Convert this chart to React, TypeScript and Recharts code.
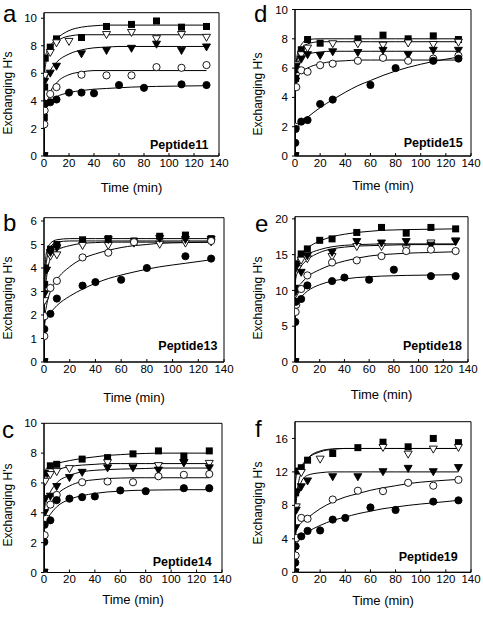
import React from 'react';
import { ComposedChart, Line, Scatter, XAxis, YAxis, ReferenceArea } from 'recharts';

const FONT = '"Liberation Sans", Arial, Helvetica, sans-serif';
const _ = null;

// sampling times (min) of the measured points
const T = [0, 0.25, 0.5, 1, 2, 5, 10, 20, 30, 40, 50, 60, 70, 80, 90, 110, 130];
// times at which the fitted curves were read
const FT = [0, 0.5, 2, 5, 10, 20, 30, 40, 50, 60, 70, 80, 90, 110, 130];
const xTicks = [0, 20, 40, 60, 80, 100, 120, 140];

// Peptide11 (a)
const p11Sq = [0, 2.8, 5.0, 7.1, _, 7.9, 8.5, _, 8.6, _, 9.4, _, 9.55, _, 9.8, 9.35, 9.4];
const p11OT = [0, _, _, 5.85, _, 7.5, 8.2, 8.3, _, _, 8.8, _, 8.95, _, 8.5, 8.8, 8.6];
const p11FT = [0, _, 5.4, _, _, 6.0, 6.5, _, 7.4, _, 7.65, _, 7.8, _, 8.1, 7.65, 7.9];
const p11OC = [0, 2.3, 3.3, _, _, 4.5, 5.0, _, 5.9, _, 5.85, _, 5.85, _, 6.45, 6.4, 6.6];
const p11FC = [0, _, _, 3.8, _, 3.9, 4.1, 4.6, 4.6, 4.55, _, 5.15, _, 4.95, _, 5.2, 5.15];
const p11SqFit = [0, 7.0, 7.5, 8.0, 8.5, 9.1, 9.35, 9.45, 9.5, 9.5, 9.5, 9.5, 9.5, 9.5, 9.5];
const p11OTFit = [0, 6.0, 7.0, 7.8, 8.3, 8.7, 8.8, 8.8, 8.8, 8.8, 8.8, 8.8, 8.8, 8.8, 8.8];
const p11FTFit = [0, 5.0, 5.6, 6.2, 6.8, 7.4, 7.7, 7.85, 7.9, 7.95, 7.95, 7.95, 7.95, 7.95, 7.95];
const p11OCFit = [0, 2.8, 3.6, 4.6, 5.3, 5.9, 6.1, 6.2, 6.2, 6.2, 6.2, 6.2, 6.2, 6.2, 6.2];
const p11FCFit = [0, 3.6, 3.85, 4.0, 4.3, 4.6, 4.75, 4.85, 4.9, 4.95, 5.0, 5.03, 5.05, 5.08, 5.1];

// Peptide13 (b)
const p13Sq = [0, _, 3.3, 4.0, _, 4.8, 5.0, _, 5.2, _, 5.25, _, 5.15, _, 5.35, 5.4, 5.25];
const p13OT = [0, _, 2.6, _, _, 4.5, 4.55, _, 4.95, _, 4.95, _, 5.05, _, 5.0, 5.05, 5.1];
const p13FT = [0, _, 2.9, _, 3.9, 4.65, 4.85, _, _, _, 5.2, _, _, _, 5.25, 5.2, 5.2];
const p13OC = [0, 1.1, 1.95, _, _, 3.15, 3.45, _, 4.45, _, 4.65, _, 5.1, _, _, _, 5.15];
const p13FC = [0, 1.4, _, _, _, 2.05, 2.7, _, 3.25, 3.4, _, 3.5, _, 4.0, _, 4.5, 4.4];
const p13SqFit = [0, 3.5, 4.7, 5.05, 5.2, 5.25, 5.25, 5.25, 5.25, 5.25, 5.25, 5.25, 5.25, 5.25, 5.25];
const p13OTFit = [0, 2.7, 3.6, 4.4, 4.75, 4.95, 5.05, 5.08, 5.1, 5.1, 5.1, 5.1, 5.1, 5.1, 5.1];
const p13FTFit = [0, 3.0, 4.3, 4.9, 5.1, 5.15, 5.15, 5.15, 5.15, 5.15, 5.15, 5.15, 5.15, 5.15, 5.15];
const p13OCFit = [0, 1.8, 2.4, 3.0, 3.5, 4.05, 4.4, 4.6, 4.75, 4.87, 4.95, 5.0, 5.05, 5.08, 5.1];
const p13FCFit = [0, 1.6, 1.9, 2.1, 2.4, 2.8, 3.1, 3.35, 3.55, 3.7, 3.83, 3.95, 4.05, 4.2, 4.35];

// Peptide14 (c)
const p14Sq = [0, _, _, 6.65, _, 7.15, 7.25, _, 7.6, _, 7.7, _, 7.95, _, 8.15, 7.8, 8.15];
const p14OT = [0, _, _, 6.1, _, 6.55, 6.75, 6.95, _, _, 7.35, _, 7.1, _, 7.15, 7.35, 7.3];
const p14FT = [0, _, 4.0, 4.95, _, 5.1, 5.75, 6.35, 6.7, _, 7.0, _, 7.0, _, 6.85, 7.35, 7.0];
const p14OC = [0, _, 2.5, _, 3.6, 4.55, 5.2, _, 6.05, _, 6.1, _, 6.05, _, 6.45, 6.55, 6.6];
const p14FC = [0, 2.05, 3.2, _, _, 3.5, 4.85, 4.95, 5.05, 5.1, _, 5.5, _, 5.45, _, 5.65, 5.65];
const p14SqFit = [0, 6.5, 7.0, 7.15, 7.3, 7.5, 7.65, 7.75, 7.85, 7.9, 7.95, 7.98, 8.0, 8.0, 8.0];
const p14OTFit = [0, 5.9, 6.3, 6.6, 6.85, 7.1, 7.2, 7.25, 7.3, 7.3, 7.3, 7.3, 7.3, 7.3, 7.3];
const p14FTFit = [0, 4.3, 4.8, 5.4, 6.0, 6.5, 6.75, 6.85, 6.9, 6.93, 6.95, 6.97, 7.0, 7.0, 7.0];
const p14OCFit = [0, 3.6, 4.0, 4.6, 5.2, 5.8, 6.1, 6.22, 6.3, 6.33, 6.35, 6.35, 6.35, 6.35, 6.35];
const p14FCFit = [0, 3.3, 3.5, 3.9, 4.4, 4.9, 5.15, 5.3, 5.4, 5.45, 5.5, 5.52, 5.53, 5.55, 5.55];

// Peptide15 (d)
const p15Sq = [0, _, 5.3, 5.9, _, 7.25, 7.95, 7.7, _, _, 8.0, _, 8.25, _, 8.0, 8.2, 7.95];
const p15OT = [0, _, _, 6.2, _, 6.9, 7.35, _, 7.65, _, 7.65, _, 7.55, _, 7.7, 7.6, 7.75];
const p15FT = [0, _, 5.1, 6.1, _, 6.6, 6.9, 6.85, 7.1, _, 7.05, _, 7.2, _, 6.9, 7.2, 7.2];
const p15OC = [0, _, 2.0, 4.7, _, 5.85, 5.75, 6.2, 6.3, _, 6.5, _, 6.7, _, 6.5, 6.65, 6.85];
const p15FC = [0, 0.9, 1.85, _, _, 2.35, 2.45, 3.55, 3.85, _, _, 4.85, _, 6.0, _, 6.5, 6.65];
const p15SqFit = [0, 5.8, 7.0, 7.6, 7.95, 8.0, 8.0, 8.0, 8.0, 8.0, 8.0, 8.0, 8.0, 8.0, 8.0];
const p15OTFit = [0, 5.5, 6.6, 7.3, 7.65, 7.8, 7.8, 7.8, 7.8, 7.8, 7.8, 7.8, 7.8, 7.8, 7.8];
const p15FTFit = [0, 5.5, 6.3, 6.7, 6.95, 7.1, 7.15, 7.15, 7.15, 7.15, 7.15, 7.15, 7.15, 7.15, 7.15];
const p15OCFit = [0, 4.8, 5.3, 5.7, 6.0, 6.3, 6.45, 6.5, 6.55, 6.55, 6.55, 6.55, 6.55, 6.55, 6.55];
const p15FCFit = [0, 1.9, 2.1, 2.3, 2.65, 3.3, 3.85, 4.35, 4.8, 5.15, 5.5, 5.8, 6.05, 6.45, 6.75];

// Peptide18 (e)
const p18Sq = [0, 10.3, _, 13.7, _, 15.1, 15.8, 17.0, 17.2, _, 18.1, _, 18.8, _, 18.0, 18.8, 18.6];
const p18OT = [0, _, 9.5, _, 13.0, 14.2, 14.4, _, 14.7, _, 16.1, _, 16.1, _, 15.8, 16.6, 16.9];
const p18FT = [0, _, 9.8, 13.3, _, 12.5, 14.8, _, 15.3, _, 16.8, _, 16.6, _, 16.8, 16.3, 16.8];
const p18OC = [0, _, 7.0, 8.0, _, 10.2, 12.1, _, 13.9, _, 14.2, _, 14.8, _, 15.5, 15.7, 15.5];
const p18FC = [0, 5.6, 8.4, _, _, 8.8, 10.7, _, 11.3, 11.8, _, 11.5, _, 12.9, _, 12.0, 12.0];
const p18SqFit = [0, 13.0, 14.3, 15.0, 15.9, 16.9, 17.5, 17.85, 18.1, 18.25, 18.4, 18.45, 18.5, 18.55, 18.6];
const p18OTFit = [0, 11.5, 12.5, 13.4, 14.3, 15.3, 15.8, 16.05, 16.2, 16.25, 16.3, 16.35, 16.4, 16.4, 16.4];
const p18FTFit = [0, 12.5, 13.6, 14.3, 15.0, 15.7, 16.1, 16.3, 16.4, 16.45, 16.5, 16.5, 16.5, 16.5, 16.5];
const p18OCFit = [0, 9.5, 10.3, 11.0, 11.9, 12.9, 13.6, 14.1, 14.5, 14.8, 15.0, 15.1, 15.2, 15.3, 15.4];
const p18FCFit = [0, 8.2, 8.6, 9.1, 9.9, 10.8, 11.3, 11.6, 11.8, 11.9, 12.0, 12.05, 12.1, 12.15, 12.2];

// Peptide19 (f)
const p19Sq = [0, _, 9.5, 12.1, _, 12.5, 13.4, _, 14.2, _, 14.9, _, 15.55, _, 15.0, 16.0, 15.5];
const p19OT = [0, _, _, 7.8, _, 11.9, _, 13.5, _, _, _, _, 14.9, _, 14.1, 14.7, 14.9];
const p19FT = [0, _, 5.3, 7.4, 9.6, 10.2, 10.9, _, 11.4, _, 11.4, _, 12.0, _, 12.4, 12.0, 12.5];
const p19OC = [0, _, 2.0, 4.1, _, 6.5, 6.4, _, 8.7, _, 9.75, _, 9.7, _, 10.7, 10.35, 11.05];
const p19FC = [0, 1.15, 3.1, _, _, 4.3, 4.95, 5.0, 6.3, 6.5, _, 7.75, _, 7.45, _, 8.45, 8.6];
const p19SqFit = [0, 11.0, 12.0, 12.7, 13.6, 14.4, 14.7, 14.8, 14.8, 14.8, 14.8, 14.8, 14.8, 14.8, 14.8];
const p19OTFit = [0, 8.0, 10.0, 12.0, 13.6, 14.5, 14.75, 14.8, 14.8, 14.8, 14.8, 14.8, 14.8, 14.8, 14.8];
const p19FTFit = [0, 7.5, 9.5, 10.8, 11.6, 11.9, 12.0, 12.0, 12.0, 12.0, 12.0, 12.0, 12.0, 12.0, 12.0];
const p19OCFit = [0, 4.5, 5.3, 5.9, 6.5, 7.6, 8.4, 9.0, 9.4, 9.8, 10.1, 10.35, 10.6, 10.9, 11.1];
const p19FCFit = [0, 3.2, 3.6, 4.2, 4.8, 5.6, 6.2, 6.6, 7.0, 7.3, 7.6, 7.8, 8.0, 8.3, 8.6];

const pts = (times: number[], vals: (number | null)[]) =>
  vals.map((v, i) => (v == null ? null : { t: times[i], v })).filter(Boolean) as { t: number; v: number }[];

// marker shapes
const square = (p: any) => <rect x={p.cx - 3.5} y={p.cy - 3.5} width={7} height={7} fill="#000" />;
const tri = (filled: boolean) => (p: any) => (
  <path
    d={`M${p.cx - 4},${p.cy - 3.2}L${p.cx + 4},${p.cy - 3.2}L${p.cx},${p.cy + 3.8}Z`}
    fill={filled ? '#000' : '#fff'}
    stroke="#000"
    strokeWidth={0.9}
  />
);
const circ = (filled: boolean) => (p: any) => (
  <circle cx={p.cx} cy={p.cy} r={3.6} fill={filled ? '#000' : '#fff'} stroke="#000" strokeWidth={0.9} />
);
const shapes = [square, tri(false), tri(true), circ(false), circ(true)];

type Geo = { cx: number; cy: number; cw: number; ch: number; l: number; r: number; t: number; b: number };

function Panel({ g, yMax, yTicks, marks, fits }: { g: Geo; yMax: number; yTicks: number[]; marks: (number | null)[][]; fits: number[][] }) {
  const tickStyle = { fontSize: 11.5, fill: '#000', fontFamily: FONT };
  return (
    <div style={{ position: 'absolute', left: g.cx, top: g.cy }}>
      <ComposedChart
        width={g.cw}
        height={g.ch}
        margin={{ top: g.t - g.cy, right: g.cx + g.cw - g.r, bottom: g.cy + g.ch - g.b - 20, left: g.l - g.cx - 30 }}
      >
        <XAxis
          type="number"
          dataKey="t"
          domain={[0, 140]}
          ticks={xTicks}
          interval={0}
          allowDataOverflow
          height={20}
          tickSize={-3}
          tickMargin={5.5}
          tick={tickStyle}
          axisLine={{ stroke: '#000' }}
          tickLine={{ stroke: '#000' }}
        />
        <YAxis
          type="number"
          dataKey="v"
          domain={[0, yMax]}
          ticks={yTicks}
          interval={0}
          allowDataOverflow
          width={30}
          tickSize={3}
          tickMargin={4}
          tick={tickStyle}
          axisLine={{ stroke: '#000' }}
          tickLine={{ stroke: '#000' }}
        />
        <ReferenceArea x1={0} x2={140} y1={0} y2={yMax} fill="none" fillOpacity={0} stroke="#000" strokeWidth={1} />
        {fits.map((f, i) => (
          <Line
            key={'fit' + i}
            data={pts(FT, f)}
            dataKey="v"
            type="monotone"
            stroke="#000"
            strokeWidth={1}
            dot={false}
            isAnimationActive={false}
          />
        ))}
        {marks.map((m, i) => (
          <Scatter key={'m' + i} data={pts(T, m)} dataKey="v" shape={shapes[i]} isAnimationActive={false} />
        ))}
      </ComposedChart>
    </div>
  );
}

const geoA: Geo = { cx: 0, cy: 0, cw: 242, ch: 205, l: 44, r: 219, t: 12.7, b: 156 };
const geoB: Geo = { cx: 0, cy: 205, cw: 242, ch: 205, l: 44, r: 224, t: 217.7, b: 362 };
const geoC: Geo = { cx: 0, cy: 410, cw: 242, ch: 207, l: 44, r: 222, t: 423.3, b: 572.5 };
const geoD: Geo = { cx: 242, cy: 0, cw: 241, ch: 205, l: 295, r: 471, t: 9.5, b: 156 };
const geoE: Geo = { cx: 242, cy: 205, cw: 241, ch: 205, l: 295, r: 468, t: 216.7, b: 362 };
const geoF: Geo = { cx: 242, cy: 410, cw: 241, ch: 207, l: 295, r: 471, t: 421.7, b: 572.3 };

const letters = [
  { s: 'a', x: 3, y: 22 },
  { s: 'b', x: 3, y: 231 },
  { s: 'c', x: 2, y: 438 },
  { s: 'd', x: 254, y: 21.7 },
  { s: 'e', x: 255, y: 232 },
  { s: 'f', x: 255, y: 437 },
];
const yTitles = [
  { x: 11.5, y: 93 },
  { x: 11.5, y: 298 },
  { x: 11.5, y: 505 },
  { x: 262.3, y: 94 },
  { x: 262.3, y: 298 },
  { x: 262.3, y: 503 },
];
const xTitles = [
  { x: 131.5, y: 191.6 },
  { x: 134, y: 402 },
  { x: 133, y: 604.3 },
  { x: 383, y: 190 },
  { x: 381.5, y: 399.3 },
  { x: 383, y: 605 },
];
const peptides = [
  { s: 'Peptide11', x: 150, y: 148.6 },
  { s: 'Peptide13', x: 158.3, y: 350 },
  { s: 'Peptide14', x: 152.7, y: 565.7 },
  { s: 'Peptide15', x: 403.7, y: 147.3 },
  { s: 'Peptide18', x: 403, y: 350 },
  { s: 'Peptide19', x: 398.7, y: 560.7 },
];

export default function App() {
  return (
    <div style={{ position: 'absolute', left: 0, top: 0, width: 483, height: 617, background: '#fff', overflow: 'hidden' }}>
      <Panel g={geoA} yMax={10.4} yTicks={[0, 2, 4, 6, 8, 10]}
        marks={[p11Sq, p11OT, p11FT, p11OC, p11FC]} fits={[p11SqFit, p11OTFit, p11FTFit, p11OCFit, p11FCFit]} />
      <Panel g={geoB} yMax={6.14} yTicks={[0, 1, 2, 3, 4, 5, 6]}
        marks={[p13Sq, p13OT, p13FT, p13OC, p13FC]} fits={[p13SqFit, p13OTFit, p13FTFit, p13OCFit, p13FCFit]} />
      <Panel g={geoC} yMax={10} yTicks={[0, 2, 4, 6, 8, 10]}
        marks={[p14Sq, p14OT, p14FT, p14OC, p14FC]} fits={[p14SqFit, p14OTFit, p14FTFit, p14OCFit, p14FCFit]} />
      <Panel g={geoD} yMax={10} yTicks={[0, 2, 4, 6, 8, 10]}
        marks={[p15Sq, p15OT, p15FT, p15OC, p15FC]} fits={[p15SqFit, p15OTFit, p15FTFit, p15OCFit, p15FCFit]} />
      <Panel g={geoE} yMax={20.3} yTicks={[0, 5, 10, 15, 20]}
        marks={[p18Sq, p18OT, p18FT, p18OC, p18FC]} fits={[p18SqFit, p18OTFit, p18FTFit, p18OCFit, p18FCFit]} />
      <Panel g={geoF} yMax={18} yTicks={[0, 4, 8, 12, 16]}
        marks={[p19Sq, p19OT, p19FT, p19OC, p19FC]} fits={[p19SqFit, p19OTFit, p19FTFit, p19OCFit, p19FCFit]} />
      <svg width={483} height={617} style={{ position: 'absolute', left: 0, top: 0, pointerEvents: 'none' }}>
        <g fontFamily={FONT} fill="#000">
          {letters.map((l) => (
            <text key={l.s} x={l.x} y={l.y} fontSize={24}>{l.s}</text>
          ))}
          {yTitles.map((p, i) => (
            <text key={'y' + i} x={p.x} y={p.y} fontSize={12} textAnchor="middle" transform={`rotate(-90 ${p.x} ${p.y})`}>
              Exchanging H's
            </text>
          ))}
          {xTitles.map((p, i) => (
            <text key={'x' + i} x={p.x} y={p.y} fontSize={13} textAnchor="middle">Time (min)</text>
          ))}
          {peptides.map((p) => (
            <text key={p.s} x={p.x} y={p.y} fontSize={12.5} fontWeight="bold">{p.s}</text>
          ))}
        </g>
      </svg>
    </div>
  );
}
